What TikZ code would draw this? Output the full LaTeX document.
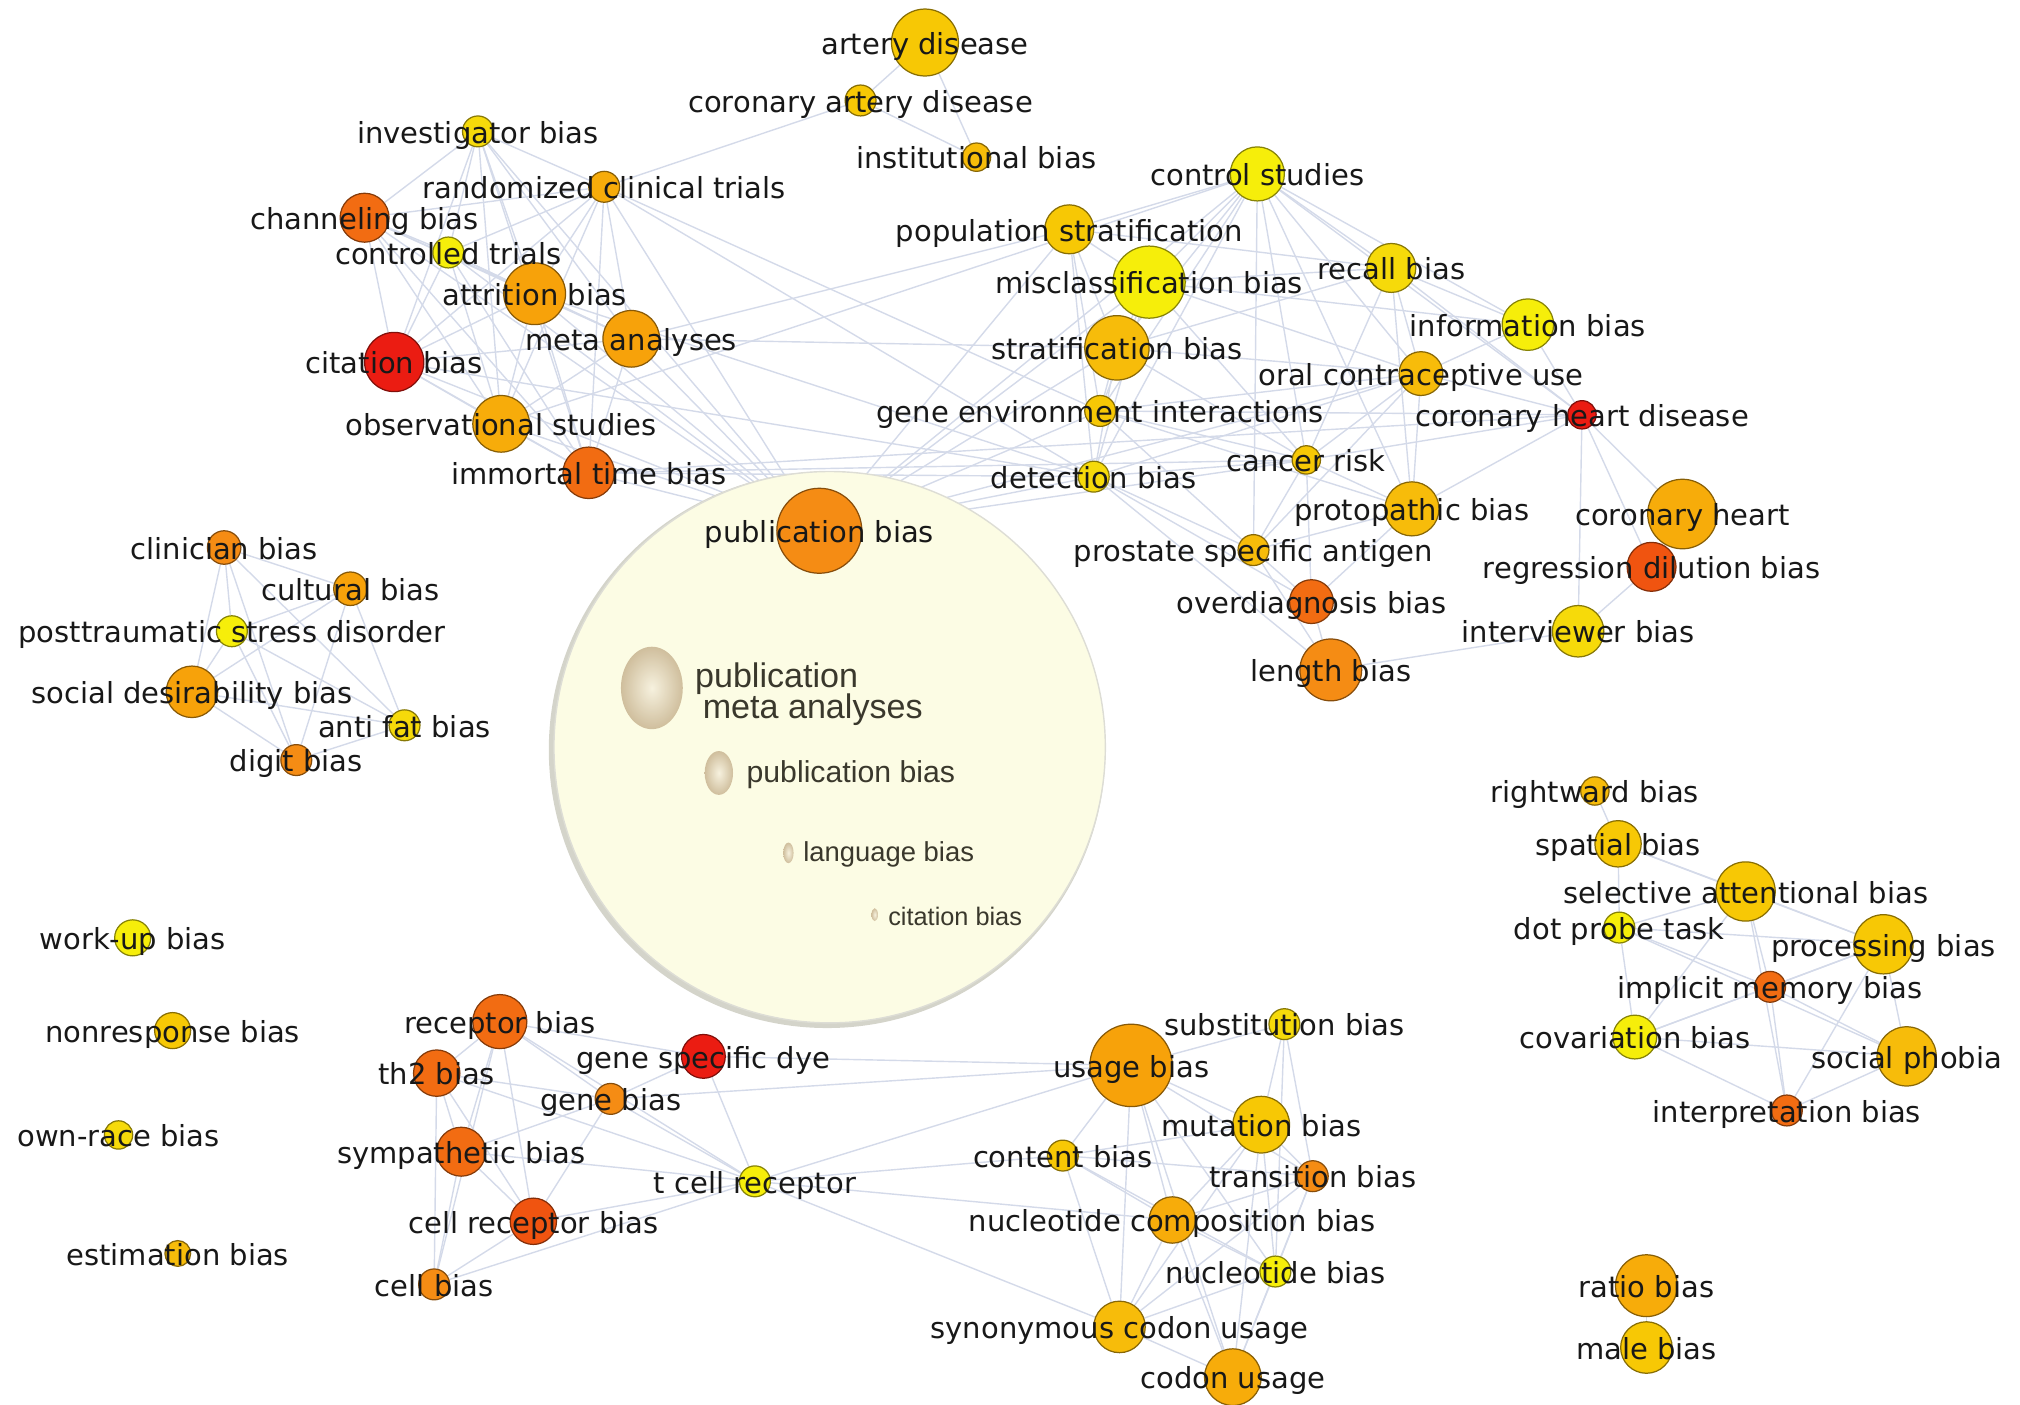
\documentclass[tikz,border=0pt]{standalone}
\usepackage{fontspec}
\setmainfont{DejaVu Sans}
\newfontfamily\insetfont{Liberation Sans}
\usetikzlibrary{shadings}

\definecolor{cY1}{RGB}{246,238,10}
\definecolor{cY2}{RGB}{246,218,10}
\definecolor{cG}{RGB}{247,200,5}
\definecolor{cG2}{RGB}{247,188,10}
\definecolor{cG3}{RGB}{247,172,10}
\definecolor{cO}{RGB}{247,162,10}
\definecolor{cO2}{RGB}{245,140,20}
\definecolor{cOR}{RGB}{242,108,18}
\definecolor{cOR2}{RGB}{240,84,16}
\definecolor{cR}{RGB}{235,28,18}
\definecolor{edgec}{RGB}{212,218,233}
\definecolor{labelc}{RGB}{24,24,24}
\definecolor{discfill}{RGB}{252,252,228}
\definecolor{discring}{RGB}{212,212,202}
\definecolor{insettext}{RGB}{58,56,44}
\definecolor{blobin}{RGB}{246,240,222}
\definecolor{blobout}{RGB}{200,180,145}

\pgfdeclarelayer{edgelayer}
\pgfdeclarelayer{disc}
\pgfdeclarelayer{labels}
\pgfsetlayers{edgelayer,disc,main,labels}

\tikzset{
  bub/.style={circle, inner sep=0pt, line width=0.35pt},
  lbl/.style={inner sep=0pt, text=labelc, font=\fontsize{8.25}{10}\selectfont,
              text height=0.72em, text depth=0.2em},
  edge/.style={draw=edgec, line width=0.4pt},
  inset/.style={anchor=west, inner sep=0pt, text=insettext},
  blob/.style={inner color=blobin, outer color=blobout, opacity=0.85}
}

% term node: name, x, y, radius, colour, label
\newcommand\term[6]{%
  \node[bub, fill=#5, draw=#5!55!black, minimum size=#4*0.7324pt] (#1) at (#2,#3) {};
  \begin{pgfonlayer}{labels}\node[lbl] at (#2,#3+2) {#6};\end{pgfonlayer}}

\begin{document}
\begin{tikzpicture}[x=0.01288cm, y=-0.01288cm]
\useasboundingbox (0,0) rectangle (1568,1090);
\clip (0,0) rectangle (1568,1090);

% ---- top group
\term{ad}{718}{33}{26}{cG}{artery disease}
\term{cad}{668}{78}{12}{cG}{coronary artery disease}
\term{inst}{758}{122}{11}{cG2}{institutional bias}

% ---- study design cluster
\term{inv}{371}{102}{12}{cY2}{investigator bias}
\term{rct}{469}{145}{12}{cG3}{randomized clinical trials}
\term{chan}{283}{169}{19}{cOR}{channeling bias}
\term{ctr}{348}{196}{12}{cY1}{controlled trials}
\term{attr}{415}{228}{24}{cO}{attrition bias}
\term{meta}{490}{263}{22}{cO}{meta analyses}
\term{cit}{306}{281}{23}{cR}{citation bias}
\term{obs}{389}{329}{22}{cG3}{observational studies}
\term{imm}{457}{367}{20}{cOR}{immortal time bias}
\term{pub}{636}{412}{33}{cO2}{publication bias}

% ---- epidemiology cluster
\term{cs}{976}{135}{21}{cY1}{control studies}
\term{ps}{830}{178}{19}{cG}{population stratification}
\term{mis}{892}{219}{28}{cY1}{misclassification bias}
\term{rec}{1080}{208}{19}{cY2}{recall bias}
\term{info}{1186}{252}{20}{cY1}{information bias}
\term{sb}{867}{270}{25}{cG2}{stratification bias}
\term{ocu}{1103}{290}{17}{cG2}{oral contraceptive use}
\term{gei}{854}{319}{12}{cG}{gene environment interactions}
\term{chd}{1228}{322}{11}{cR}{coronary heart disease}
\term{det}{849}{370}{12}{cY2}{detection bias}
\term{cr}{1014}{357}{11}{cG}{cancer risk}
\term{pro}{1096}{395}{21}{cG2}{protopathic bias}
\term{ch}{1306}{399}{27}{cG3}{coronary heart}
\term{psa}{973}{427}{12}{cG2}{prostate specific antigen}
\term{rdb}{1282}{440}{19}{cOR2}{regression dilution bias}
\term{od}{1018}{467}{17}{cOR}{overdiagnosis bias}
\term{ib}{1225}{490}{20}{cY2}{interviewer bias}
\term{lb}{1033}{520}{24}{cO2}{length bias}

% ---- response cluster
\term{clin}{174}{425}{13}{cO2}{clinician bias}
\term{cult}{272}{457}{13}{cO}{cultural bias}
\term{ptsd}{180}{490}{12}{cY1}{posttraumatic stress disorder}
\term{sdb}{149}{537}{20}{cO}{social desirability bias}
\term{afb}{314}{563}{12}{cY2}{anti fat bias}
\term{digit}{230}{590}{12}{cO2}{digit bias}

% ---- isolated terms
\term{wub}{103}{728}{14}{cY1}{work-up bias}
\term{nrb}{134}{800}{14}{cG}{nonresponse bias}
\term{orb}{92}{881}{11}{cY2}{own-race bias}
\term{est}{138}{973}{10}{cG2}{estimation bias}

% ---- receptor cluster
\term{rb}{388}{793}{21}{cOR}{receptor bias}
\term{gsd}{546}{820}{17}{cR}{gene specific dye}
\term{th2}{339}{833}{18}{cOR}{th2 bias}
\term{gb}{474}{853}{12}{cO2}{gene bias}
\term{symp}{358}{894}{19}{cOR}{sympathetic bias}
\term{tcr}{586}{917}{12}{cY1}{t cell receptor}
\term{crb}{414}{948}{18}{cOR2}{cell receptor bias}
\term{cb}{337}{997}{12}{cO2}{cell bias}

% ---- codon cluster
\term{ub}{878}{827}{32}{cO}{usage bias}
\term{sub}{997}{795}{12}{cY2}{substitution bias}
\term{mut}{979}{873}{22}{cG}{mutation bias}
\term{cont}{825}{897}{12}{cG}{content bias}
\term{trans}{1019}{913}{12}{cO2}{transition bias}
\term{ncb}{910}{947}{18}{cG3}{nucleotide composition bias}
\term{nb}{990}{987}{12}{cY1}{nucleotide bias}
\term{scu}{869}{1030}{20}{cG2}{synonymous codon usage}
\term{cu}{957}{1069}{22}{cG3}{codon usage}

% ---- attention cluster
\term{rw}{1238}{614}{11}{cG2}{rightward bias}
\term{sp}{1256}{655}{18}{cG}{spatial bias}
\term{sab}{1355}{692}{23}{cG}{selective attentional bias}
\term{dpt}{1257}{720}{12}{cY1}{dot probe task}
\term{proc}{1462}{733}{23}{cG}{processing bias}
\term{imb}{1374}{766}{12}{cOR}{implicit memory bias}
\term{cov}{1269}{805}{17}{cY1}{covariation bias}
\term{soc}{1480}{820}{23}{cG2}{social phobia}
\term{interp}{1387}{862}{12}{cOR}{interpretation bias}

\term{ratio}{1278}{998}{24}{cG3}{ratio bias}
\term{male}{1278}{1046}{20}{cG}{male bias}

% ---- connectors
\begin{pgfonlayer}{edgelayer}
\foreach \a/\b in {
  ad/cad, ad/inst, cad/inst, cad/rct,
  inv/rct, inv/chan, inv/ctr, inv/attr, inv/meta, inv/cit, inv/obs, inv/imm, inv/pub,
  rct/chan, rct/ctr, rct/attr, rct/meta, rct/cit, rct/obs, rct/imm, rct/pub,
  chan/ctr, chan/attr, chan/meta, chan/cit, chan/obs, chan/imm, chan/pub,
  ctr/attr, ctr/meta, ctr/cit, ctr/obs, ctr/imm, ctr/pub,
  attr/meta, attr/cit, attr/obs, attr/imm, attr/pub,
  meta/cit, meta/obs, meta/imm, meta/pub,
  cit/obs, cit/imm, cit/pub, obs/imm, obs/pub, imm/pub,
  rct/gei, rct/det, meta/ps, meta/sb, obs/cs, attr/det,
  imm/det, imm/cr, imm/chd, cit/det,
  pub/ps, pub/sb, pub/gei, pub/det, pub/cr, pub/ocu, pub/mis, pub/cs,
  cs/ps, cs/mis, cs/rec, cs/info, cs/sb, cs/ocu, cs/gei, cs/det, cs/cr,
  cs/pro, cs/chd, cs/psa, ps/mis, ps/sb, ps/gei, ps/det, ps/rec,
  mis/sb, mis/rec, mis/gei, mis/det, mis/ocu, mis/info, mis/cr,
  rec/info, rec/ocu, rec/pro, rec/cr, rec/chd, rec/sb, info/ocu, info/chd,
  sb/gei, sb/det, sb/cr, sb/ocu, ocu/chd, ocu/cr, ocu/pro, ocu/psa, ocu/gei,
  ocu/det, chd/ch, chd/rdb, chd/ib, chd/pro, chd/cr, chd/gei, ch/rdb,
  rdb/ib, ib/lb, cr/psa, cr/pro, cr/od, cr/det, cr/gei, psa/od, psa/lb,
  psa/pro, psa/det, od/lb, det/lb, det/od, gei/pro, gei/psa, pro/od,
  clin/cult, clin/ptsd, clin/sdb, clin/digit, clin/afb, cult/ptsd, cult/sdb,
  cult/digit, cult/afb, ptsd/sdb, ptsd/digit, ptsd/afb, sdb/digit, sdb/afb,
  digit/afb,
  rb/th2, rb/gb, rb/symp, rb/crb, rb/tcr, rb/gsd, rb/cb, th2/gb, th2/symp,
  th2/crb, th2/cb, th2/tcr, symp/crb, symp/cb, symp/tcr, symp/gb, crb/cb,
  crb/gb, crb/tcr, cb/tcr, gb/gsd, gb/tcr, gsd/tcr, gsd/ub, gb/ub, tcr/ub,
  tcr/cont, tcr/ncb, tcr/scu,
  ub/sub, ub/mut, ub/cont, ub/ncb, ub/scu, ub/nb, ub/trans, ub/cu, sub/mut,
  sub/trans, sub/nb, mut/cont, mut/trans, mut/ncb, mut/nb, mut/scu, mut/cu,
  cont/ncb, cont/scu, cont/nb, cont/trans, trans/ncb, trans/nb, trans/scu,
  trans/cu, ncb/nb, ncb/scu, ncb/cu, nb/scu, nb/cu, scu/cu,
  rw/sp, sp/sab, sp/dpt, sp/proc, sab/dpt, sab/proc, sab/imb, sab/cov,
  sab/interp, dpt/imb, dpt/cov, dpt/proc, dpt/soc, proc/imb, proc/soc,
  proc/cov, proc/interp, imb/cov, imb/soc, imb/interp, cov/soc, cov/interp,
  soc/interp, ratio/male}
  \draw[edge] (\a) -- (\b);
\end{pgfonlayer}

% ---- detail disc for publication bias
\begin{pgfonlayer}{disc}
\fill[discring] (642,582) circle [radius=216];
\fill[discfill] (644,580) circle [radius=214];
\draw[discring!80, line width=0.4pt] (644,580) circle [radius=214];
\shade[blob] (506,534) ellipse [x radius=24, y radius=32];
\shade[blob] (558,600) ellipse [x radius=11, y radius=17];
\shade[blob] (612,662) ellipse [x radius=4, y radius=8];
\shade[blob] (679,710) ellipse [x radius=2.5, y radius=5];
\node[inset, font=\insetfont\fontsize{9.7}{11}\selectfont] at (539,527) {publication};
\node[inset, font=\insetfont\fontsize{9.7}{11}\selectfont] at (545,551) {meta analyses};
\node[inset, font=\insetfont\fontsize{8.6}{10}\selectfont] at (579,601) {publication bias};
\node[inset, font=\insetfont\fontsize{7.8}{9}\selectfont] at (623,663) {language bias};
\node[inset, font=\insetfont\fontsize{7.2}{9}\selectfont] at (689,711) {citation bias};
\end{pgfonlayer}
\end{tikzpicture}
\end{document}
